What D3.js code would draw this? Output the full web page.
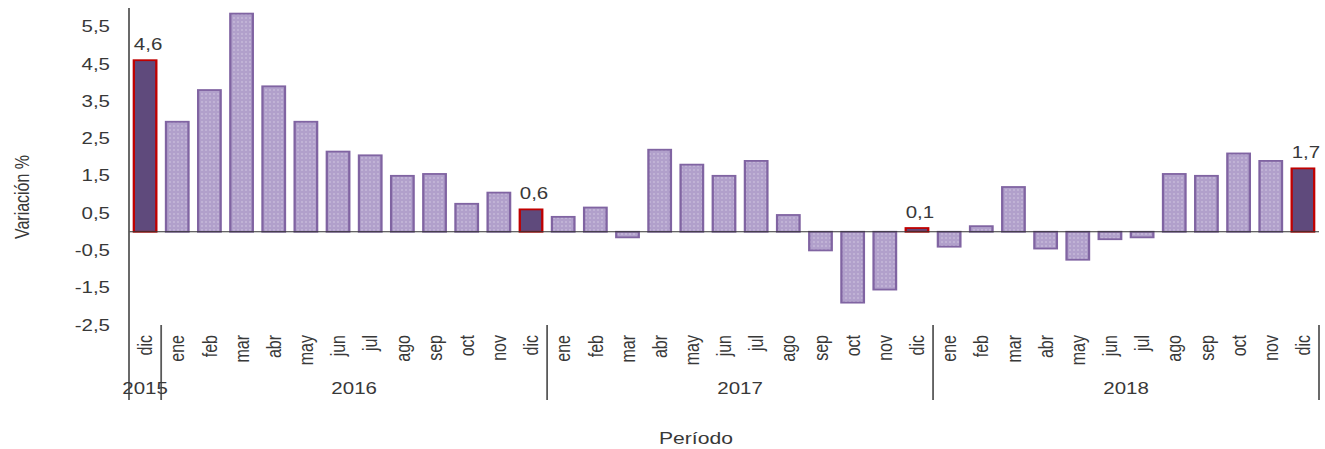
<!DOCTYPE html>
<html><head><meta charset="utf-8">
<script src="https://cdn.jsdelivr.net/npm/d3@7"></script>
<style>body{margin:0;background:#fff}svg{display:block}text{font-family:"Liberation Sans",Arial,sans-serif}</style>
</head><body>
<script>
const months=["dic","ene","feb","mar","abr","may","jun","jul","ago","sep","oct","nov","dic",
"ene","feb","mar","abr","may","jun","jul","ago","sep","oct","nov","dic",
"ene","feb","mar","abr","may","jun","jul","ago","sep","oct","nov","dic"];
const values=[4.6,
2.95,3.8,5.85,3.9,2.95,2.15,2.05,1.5,1.55,0.75,1.05,0.6,
0.4,0.65,-0.15,2.2,1.8,1.5,1.9,0.45,-0.5,-1.9,-1.55,0.1,
-0.4,0.15,1.2,-0.45,-0.75,-0.2,-0.15,1.55,1.5,2.1,1.9,1.7];
const years=["2015","2016","2017","2018"];
const yearSpans=[1,12,12,12];
const yTicks=[-2.5,-1.5,-0.5,0.5,1.5,2.5,3.5,4.5,5.5];

const W=1325,H=449,SX=1.28,VW=W/SX;
const TXT="#383838";
const fmt=v=>d3.format(".1f")(v).replace(".",",").replace("\u2212","-");
const svg=d3.select("body").append("svg").attr("width",W).attr("height",H)
  .attr("viewBox",`0 0 ${VW} ${H}`).attr("preserveAspectRatio","none");
const left=129/SX,right=1319/SX;
const x=d3.scaleBand().domain(d3.range(values.length)).range([left,right]).paddingInner(0.3).paddingOuter(0.15);
const y=d3.scaleLinear().domain([-2.5,6]).range([325,8]);

const defs=svg.append("defs");
const pat=defs.append("pattern").attr("id","dots").attr("patternUnits","userSpaceOnUse")
  .attr("width",4/SX).attr("height",4);
pat.append("rect").attr("width",4/SX).attr("height",4).attr("fill","#b1a0cb");
pat.append("rect").attr("x",1.5/SX).attr("y",1.5).attr("width",1/SX).attr("height",1).attr("fill","#fff").attr("opacity",0.75);

const isHi=i=>months[i]==="dic";
svg.append("g").selectAll("rect").data(values).join("rect")
  .attr("x",(d,i)=>x(i)).attr("width",x.bandwidth())
  .attr("y",d=>y(Math.max(0,d))).attr("height",d=>Math.abs(y(d)-y(0)))
  .attr("fill",(d,i)=>isHi(i)?"#5f4a7c":"url(#dots)")
  .attr("stroke",(d,i)=>isHi(i)?"#c00000":"#8064a2")
  .attr("stroke-width",1.8);

// zero line
svg.append("line").attr("x1",left).attr("x2",right).attr("y1",y(0)).attr("y2",y(0))
  .attr("stroke","#333").attr("stroke-width",1);

// y axis line
svg.append("line").attr("x1",left).attr("x2",left).attr("y1",8).attr("y2",400)
  .attr("stroke","#595959").attr("stroke-width",1.4);

// y axis labels
const ya=svg.append("g").attr("transform",`translate(${left},0)`)
  .call(d3.axisLeft(y).tickValues(yTicks).tickSize(0).tickPadding(19/SX).tickFormat(fmt));
ya.select(".domain").remove();
ya.selectAll("text").attr("font-size",16).attr("fill",TXT).attr("font-family","'Liberation Sans',Arial,sans-serif");

// month labels
const xa=svg.append("g").attr("transform",`translate(0,335)`)
  .call(d3.axisBottom(x).tickSize(0).tickFormat(i=>months[i]));
xa.select(".domain").remove();
xa.selectAll("text").attr("transform","rotate(-90)").attr("x",0).attr("y",0).attr("dy","0.35em")
  .attr("text-anchor","end").attr("font-size",16).attr("fill",TXT)
  .attr("font-family","'Liberation Sans',Arial,sans-serif");

// year separators and labels
const step=x.step();
const bounds=[0].concat(Array.from(d3.cumsum(yearSpans)));
svg.append("g").selectAll("line").data(bounds.slice(1)).join("line")
  .attr("x1",d=>left+d*step).attr("x2",d=>left+d*step).attr("y1",325).attr("y2",400)
  .attr("stroke","#595959").attr("stroke-width",1.4);
svg.append("g").selectAll("text").data(years).join("text")
  .attr("x",(d,i)=>left+(bounds[i]+bounds[i+1])/2*step).attr("y",394)
  .attr("text-anchor","middle").attr("font-size",16).attr("fill",TXT).text(d=>d);

// data labels
svg.append("g").selectAll("text").data(values.map((v,i)=>({v,i})).filter(d=>isHi(d.i))).join("text")
  .attr("x",d=>x(d.i)+x.bandwidth()/2+3/SX).attr("y",d=>y(d.v)-10)
  .attr("text-anchor","middle").attr("font-size",16).attr("fill",TXT).text(d=>fmt(d.v));

// axis titles
svg.append("text").attr("transform",`translate(${22/SX},197) rotate(-90)`)
  .attr("text-anchor","middle").attr("dy","0.35em").attr("font-size",16).attr("fill",TXT).text("Variación %");
svg.append("text").attr("x",696/SX).attr("y",444).attr("text-anchor","middle")
  .attr("font-size",16.5).attr("fill",TXT).text("Período");
</script>
</body></html>
